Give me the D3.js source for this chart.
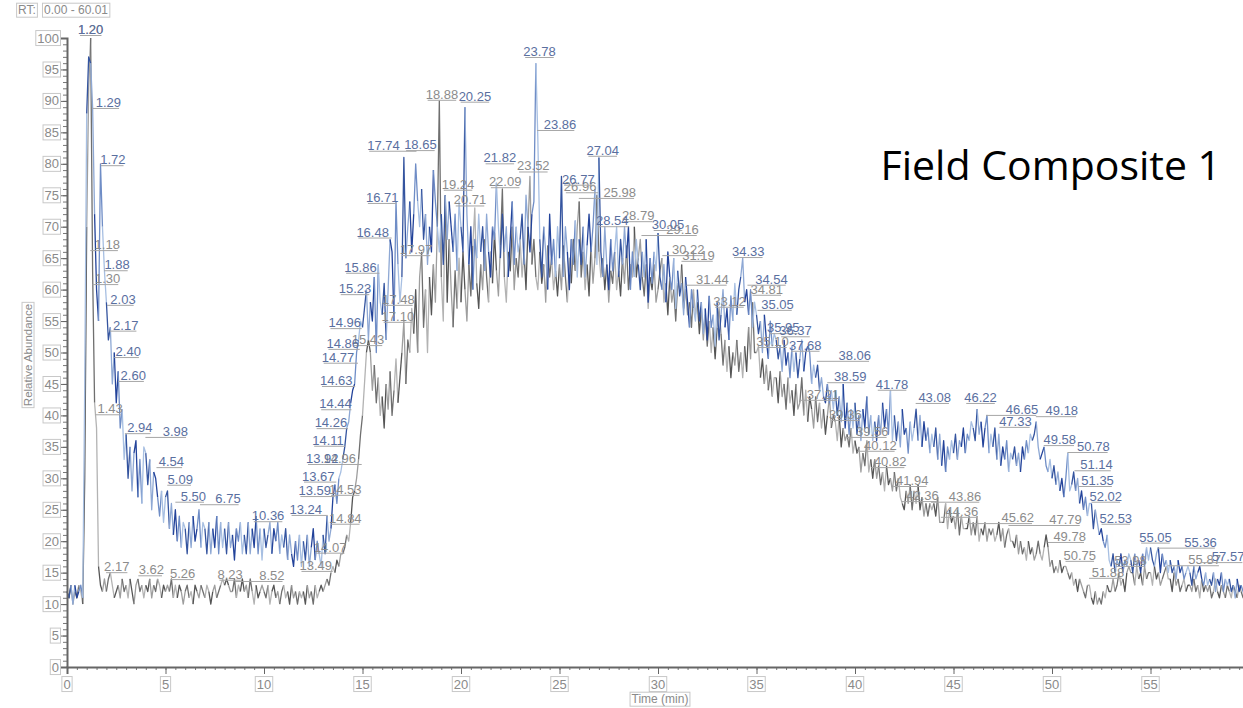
<!DOCTYPE html>
<html lang="en">
<head>
<meta charset="utf-8">
<script src="https://cdn.jsdelivr.net/npm/d3@7"></script>
<style>
  body { margin: 0; background: #fff; }
  svg { display: block; }
</style>
</head>
<body>
<svg width="1243" height="708"></svg>
<script>
// scan times: start 0.0 min, one point every 0.1 min
var scanStart = 0, scanStep = 0.1;

// blue trace (relative abundance), one row per minute
var blueValues = [
  12,11,13,10,13,11,12,13,11,45,
  88,97,96,89,72,60,55,80,70,63,
  58,52,54,45,50,42,47,38,41,33,
  37,30,35,28,34,36,27,33,26,35,
  34,29,33,25,31,30,27,24,28,23,
  27,28,22,26,21,25,20,24,19,23,
  22,18,23,19,24,20,22,25,19,23,
  22,18,23,18,22,19,24,18,23,19,
  22,18,23,19,21,17,22,20,23,18,
  21,18,23,18,22,19,24,18,22,17,
  22,19,21,23,18,22,20,23,18,21,
  19,22,17,21,18,16,20,17,21,16,
  20,17,21,16,19,22,17,20,18,16,
  21,18,24,20,22,27,29,26,30,31,
  33,35,38,39,42,44,45,50,52,55,
  54,57,60,52,58,55,62,50,64,58,
  56,61,52,60,68,66,55,74,64,58,
  62,81,65,70,74,66,72,80,74,70,
  76,68,72,64,70,66,79,74,70,66,
  72,64,75,68,74,70,66,72,63,74,
  70,66,89,72,64,70,60,68,65,72,
  66,70,63,72,66,62,70,68,77,70,
  65,72,66,70,62,68,74,64,70,66,
  68,72,64,75,70,66,72,74,96,84,
  68,62,70,66,60,72,64,68,62,70,
  65,78,62,70,66,60,68,64,71,62,
  68,64,70,62,67,72,66,70,76,64,
  81,66,62,70,64,60,68,63,66,70,
  62,68,64,70,65,70,60,66,62,68,
  64,60,66,62,68,58,65,61,66,63,
  69,62,60,64,58,66,62,60,65,57,
  63,59,61,56,62,58,54,60,57,55,
  60,55,58,53,57,52,59,54,56,51,
  58,52,56,60,54,57,52,59,55,61,
  56,60,62,65,58,60,56,60,54,58,
  56,53,55,50,56,52,49,55,51,53,
  52,49,51,47,52,48,50,46,51,47,
  50,46,49,52,47,50,51,50,45,48,
  46,48,44,46,43,42,45,42,44,41,
  44,40,43,39,45,38,42,37,41,38,
  42,37,40,36,41,38,43,37,40,36,
  39,36,40,37,42,38,41,37,44,36,
  40,36,39,35,41,37,38,34,39,36,
  38,41,36,40,35,39,36,38,34,37,
  35,38,33,37,32,36,31,35,33,36,
  34,37,33,36,35,38,34,37,36,39,
  38,36,41,37,39,35,38,40,34,37,
  35,38,33,37,32,35,33,36,31,34,
  33,35,32,34,31,35,33,36,34,37,
  36,37,39,35,33,34,35,32,31,33,
  30,32,29,31,28,30,27,30,34,28,
  29,31,28,30,26,28,25,27,24,26,
  26,22,25,23,21,22,20,19,21,17,
  16,18,15,17,16,18,15,17,16,18,
  17,15,18,16,17,15,18,16,19,17,
  19,17,16,18,19,15,18,16,17,15,
  17,15,16,14,17,15,16,14,15,16,
  15,13,16,14,15,16,14,13,15,13,
  14,13,15,12,14,13,15,12,14,13,
  14,12,13,11,14,12,13,12,11,13
];

// gray trace (relative abundance), one row per minute
var grayValues = [
  12,11,13,10,12,11,13,12,10,30,
  70,92,100,63,42,38,16,13,12,14,
  12,14,15,13,11,12,13,11,14,12,
  13,11,14,12,10,13,14,12,13,11,
  13,12,14,11,13,12,14,13,11,13,
  12,13,12,14,11,13,11,13,12,10,
  12,13,11,12,10,13,12,11,13,12,
  11,13,12,10,12,13,11,12,13,14,
  13,14,13,12,12,14,11,13,12,14,
  12,13,11,14,12,10,13,11,12,13,
  12,11,13,10,12,13,11,12,10,12,
  13,11,12,10,13,11,12,10,12,11,
  12,10,13,11,12,10,13,11,12,13,
  12,13,14,13,15,16,15,17,16,18,
  18,19,21,20,23,27,28,30,33,37,
  40,45,50,52,50,44,48,42,46,40,
  43,38,45,41,47,40,44,49,42,46,
  50,55,45,52,50,57,53,60,50,62,
  66,54,60,50,62,56,64,58,70,90,
  62,55,75,58,68,60,54,63,57,65,
  58,66,60,55,64,59,67,73,61,57,
  64,60,68,62,58,66,61,69,63,59,
  67,76,62,58,66,63,70,60,65,62,
  68,62,66,60,70,78,64,68,62,60,
  66,61,64,58,67,62,65,60,63,59,
  64,60,67,62,58,65,61,68,63,70,
  74,62,66,60,64,59,67,61,65,75,
  66,62,65,60,64,58,63,61,66,60,
  63,59,65,61,67,60,64,62,70,62,
  65,68,62,59,64,57,62,60,64,58,
  60,63,65,58,61,56,62,58,60,55,
  61,60,64,57,60,56,58,54,60,56,
  58,53,57,52,56,51,55,50,54,49,
  54,57,53,48,52,47,51,46,50,48,
  52,47,50,46,51,47,54,49,58,50,
  50,51,46,49,45,48,44,47,43,46,
  46,42,47,43,45,41,46,42,44,40,
  45,41,42,46,40,44,39,43,41,38,
  43,39,42,38,41,37,40,43,38,40,
  39,36,40,35,38,36,37,35,38,34,
  36,34,35,31,34,32,36,31,33,30,
  33,30,32,29,31,28,32,29,30,28,
  31,28,30,27,26,25,28,26,29,25,
  28,26,29,25,27,24,26,24,26,25,
  26,24,27,23,23,23,26,22,25,23,
  24,22,25,21,24,22,22,22,24,21,
  23,21,24,20,22,21,23,20,22,21,
  22,20,21,23,20,22,19,21,22,20,
  20,19,21,18,20,18,19,17,20,18,
  19,17,18,20,18,17,19,21,19,16,
  17,15,16,15,17,15,16,16,15,14,
  15,13,14,12,14,13,12,11,13,13,
  11,10,12,10,11,10,12,11,13,12,
  12,14,12,13,15,13,14,12,15,16,
  15,15,13,16,14,15,13,16,14,15,
  15,13,16,14,15,13,14,15,16,14,
  14,12,15,13,14,12,13,14,12,13,
  13,12,14,12,13,11,14,12,13,12,
  13,11,12,14,12,11,13,12,11,13,
  12,11,13,12,11,13,12,11,12,11
];

// peak labels: retention time and apex height
var blueLabelTimes = [1.20,1.29,1.72,1.88,2.03,2.17,2.40,2.60,2.94,3.98,4.54,5.09,5.50,6.75,10.36,
  13.24,13.59,13.67,13.92,14.11,14.26,14.44,14.63,14.77,14.86,14.96,15.23,15.86,16.48,16.71,17.74,18.65,
  20.25,21.82,23.78,23.86,26.77,27.04,28.54,30.05,34.33,34.54,35.05,35.95,36.37,37.68,38.06,38.59,
  41.78,43.08,46.22,46.65,47.33,49.18,49.58,50.78,51.14,51.35,52.02,52.53,55.05,55.36,57.57];
var blueLabelValues = [100,88.4,79.3,62.6,57.1,53,48.8,45,36.7,36.1,31.3,28.5,25.8,25.4,22.7,
  23.7,26.7,29,31.8,34.7,37.5,40.5,44.2,47.9,50.1,53.4,58.8,62.2,67.8,73.3,81.6,81.7,
  89.4,79.6,96.5,84.9,76.2,80.8,69.6,69,64.7,60.3,56.3,52.6,52.1,49.8,48.2,44.8,
  43.6,41.5,41.5,39.6,37.7,39.4,34.8,33.7,30.8,28.3,25.8,22.3,19.3,18.5,16.2];

var grayLabelTimes = [1.20,1.18,1.30,1.43,2.17,3.62,5.26,8.23,8.52,13.49,14.07,14.84,14.53,14.96,15.43,
  17.10,17.48,17.97,18.88,19.24,20.71,22.09,23.52,25.98,26.96,28.79,29.16,30.22,31.19,31.44,33.12,
  34.81,35.10,37.21,39.36,39.56,40.12,40.82,41.94,42.36,43.86,44.36,45.62,47.79,49.78,50.75,51.88,
  53.98,55.87];
var grayLabelValues = [100,65.8,60.4,39.7,14.6,14.1,13.5,13.4,13.2,14.8,17.7,22.3,26.9,31.8,50.7,
  54.4,57.1,65,89.7,75.4,72.9,75.8,78.3,74.1,75,70.4,68.2,65,64.1,60.3,56.8,
  58.7,50.4,42,38.8,36.1,33.9,31.3,28.3,25.9,25.8,23.4,22.4,22.1,19.4,16.4,13.7,
  15.6,15.7];

// label layout: horizontal shift (px) of each label centre away from its peak
var blueLabelShift = [0,16,12,13,16,16,14,15,15,30,15,13,18,28,-3,
  -22,-20,-18,-19,-17,-17,-16,-19,-20,-17,-17,-12,-19,-19,-14,-33,-14,
  9,3,4,23,-16,3,-17,9,5,24,20,8,12,-4,38,23,
  2,19,3,36,16,26,16,26,22,19,14,14,4,43,27];
var grayLabelShift = [0,17,15,15,7,13,12,1,37,-17,-14,-14,-8,-22,-3,
  -6,-13,-5,3,12,-5,3,3,41,-18,4,41,26,17,26,10,
  14,14,23,3,26,23,19,19,21,34,21,52,57,22,13,19,
  0,37];

var yTicks = d3.range(0, 101, 5);
var xTicks = d3.range(0, 56, 5);

var svg = d3.select("svg");
var x = d3.scaleLinear().domain([0, 60.01]).range([67, 67 + 60.01 * 19.7]);
var y = d3.scaleLinear().domain([0, 100]).range([667, 38]);

var boxFont = "Liberation Sans, Arial, sans-serif";

// draw a text and a light box around it
function boxText(parent, tx, ty, str, size, anchor, rotate) {
  var g = parent.append("g").attr("transform", "translate(" + tx + "," + ty + ")" + (rotate ? " rotate(-90)" : ""));
  var rect = g.append("rect").attr("fill", "#fff").attr("stroke", "#c8c8c8").attr("stroke-width", 1);
  var t = g.append("text").attr("font-family", boxFont).attr("font-size", size)
    .attr("fill", "#8a8a8a").attr("text-anchor", anchor).attr("dy", "0.35em").text(str);
  var b = t.node().getBBox();
  rect.attr("x", b.x - 1.5).attr("y", b.y).attr("width", b.width + 3).attr("height", b.height);
  return g;
}

// traces, split into short pieces so the colours mottle like the original
var line = d3.line().x(function(d) { return x(d[0]); }).y(function(d) { return y(d[1]); });
function drawTrace(values, palette, width) {
  var pts = values.map(function(v, i) { return [scanStart + i * scanStep, v]; });
  var g = svg.append("g").attr("fill", "none").attr("stroke-width", width).attr("stroke-linejoin", "round");
  var k = 0;
  for (var i = 0; i < pts.length - 1; i += 2) {
    g.append("path").attr("d", line(pts.slice(i, i + 3))).attr("stroke", palette[k % palette.length]);
    k++;
  }
}
drawTrace(grayValues, ["#555555", "#9e9e9e", "#6f6f6f", "#b3b3b3"], 1.3);
drawTrace(blueValues, ["#34549f", "#8ea8d4", "#23439a", "#6f8dc6", "#a7bfe2"], 1.3);

// peak labels with their leader lines back to the apex
function drawLabels(times, values, shifts, color) {
  var g = svg.append("g");
  times.forEach(function(t, i) {
    var px = x(t), py = y(values[i]);
    var txt = g.append("text").attr("x", px + shifts[i]).attr("y", py - 4)
      .attr("font-family", boxFont).attr("font-size", 13).attr("fill", color)
      .attr("text-anchor", "middle").text(t.toFixed(2));
    var b = txt.node().getBBox();
    var x0 = Math.min(px, b.x + 2), x1 = Math.max(px, b.x + b.width - 2);
    g.append("line").attr("x1", x0).attr("x2", x1).attr("y1", py - 2.5).attr("y2", py - 2.5)
      .attr("stroke", "#a6a6a6").attr("stroke-width", 1);
  });
}
drawLabels(grayLabelTimes, grayLabelValues, grayLabelShift, "#8c8c8c");
drawLabels(blueLabelTimes, blueLabelValues, blueLabelShift, "#5a6f9f");

// y axis: minor ticks every 1, major every 5
svg.append("g").attr("transform", "translate(67,0)")
  .call(d3.axisLeft(y).tickValues(d3.range(0, 101, 1)).tickSize(4).tickFormat(""))
  .call(function(g) { g.select(".domain").remove(); g.selectAll("line").attr("stroke", "#777"); });
svg.append("g").attr("transform", "translate(67,0)")
  .call(d3.axisLeft(y).tickValues(yTicks).tickSize(7).tickFormat(""))
  .call(function(g) { g.select(".domain").attr("stroke", "#666").attr("stroke-width", 2); g.selectAll("line").attr("stroke", "#666"); });
yTicks.forEach(function(v) { boxText(svg, 59, y(v), String(v), 13, "end"); });

// x axis: minor ticks every 0.5, major every 5
svg.append("g").attr("transform", "translate(0,667)")
  .call(d3.axisBottom(x).tickValues(d3.range(0, 60.01, 0.5)).tickSize(3).tickFormat(""))
  .call(function(g) { g.select(".domain").remove(); g.selectAll("line").attr("stroke", "#777"); });
svg.append("g").attr("transform", "translate(0,667)")
  .call(d3.axisBottom(x).tickValues(xTicks).tickSize(7).tickFormat(""))
  .call(function(g) { g.select(".domain").attr("stroke", "#666").attr("stroke-width", 2); g.selectAll("line").attr("stroke", "#666"); });
xTicks.forEach(function(v) { boxText(svg, x(v), 684, String(v), 13, "middle"); });

// axis titles and header
boxText(svg, 660, 699, "Time (min)", 12, "middle");
boxText(svg, 28, 355, "Relative Abundance", 11.5, "middle", true);
boxText(svg, 27, 10, "RT:", 12, "middle");
boxText(svg, 76, 10, "0.00 - 60.01", 12, "middle");

svg.append("text").attr("x", 1221).attr("y", 180).attr("text-anchor", "end")
  .attr("font-family", "Open Sans, sans-serif").attr("font-size", 41).attr("fill", "#000")
  .text("Field Composite 1");
</script>
</body>
</html>
